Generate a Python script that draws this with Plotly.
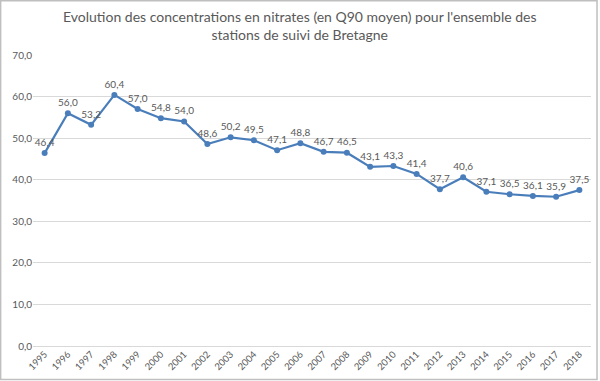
import plotly.graph_objects as go

years = [str(y) for y in range(1995, 2019)]
values = [46.4, 56.0, 53.2, 60.4, 57.0, 54.8, 54.0, 48.6, 50.2, 49.5, 47.1, 48.8,
          46.7, 46.5, 43.1, 43.3, 41.4, 37.7, 40.6, 37.1, 36.5, 36.1, 35.9, 37.5]
labels = [f"{v:.1f}".replace(".", ",") for v in values]
title = "Evolution des concentrations en nitrates (en Q90 moyen) pour l'ensemble des<br>stations de suivi de Bretagne"

FONT = "Lato, Open Sans, sans-serif"
GREY = "#595959"

fig = go.Figure()
fig.add_trace(go.Scatter(
    x=years, y=values, mode="lines+markers+text",
    text=labels, textposition="top center",
    textfont=dict(family=FONT, size=10, color=GREY),
    line=dict(color="#4A7EBB", width=2.2),
    marker=dict(color="#4A7EBB", size=6),
    cliponaxis=False, hoverinfo="skip",
))

fig.update_layout(
    width=600, height=381,
    margin=dict(l=33, r=9, t=55, b=35, autoexpand=False),
    paper_bgcolor="white", plot_bgcolor="white",
    separators=", ",
    showlegend=False,
    font=dict(family=FONT, color=GREY),
)
fig.add_annotation(text=title, xref="paper", yref="paper", x=0.4785, y=1.1,
                   xanchor="center", yanchor="middle", showarrow=False,
                   font=dict(family=FONT, size=14, color=GREY))
fig.update_xaxes(type="category", range=[-0.5, len(years) - 0.5], tickangle=-45,
                 showgrid=False, showline=False, ticks="",
                 tickfont=dict(size=9.5, color=GREY), automargin=False)
fig.update_yaxes(range=[0, 70], dtick=10, tickformat=".1f", showgrid=True,
                 gridcolor="#D9D9D9", gridwidth=1, zeroline=True,
                 zerolinecolor="#D9D9D9", zerolinewidth=1, ticks="",
                 tickfont=dict(size=10, color=GREY), automargin=False)
fig.add_shape(type="rect", xref="paper", yref="paper",
              x0=-0.058, x1=1.0108, y0=-0.115, y1=1.186,
              line=dict(color="#BFBFBF", width=1.5), fillcolor="rgba(0,0,0,0)")

fig.write_html("out.html", config={"displayModeBar": False},
               post_script="document.body.style.margin='0';")
